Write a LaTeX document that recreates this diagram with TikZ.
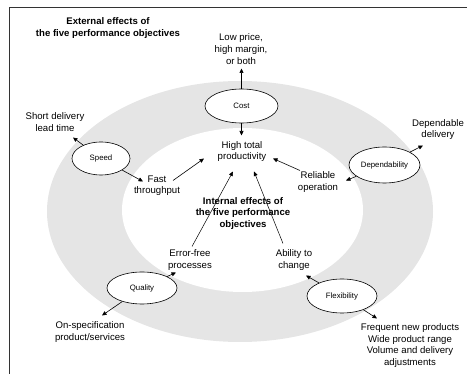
\documentclass[tikz,border=0pt]{standalone}
\usepackage{fontspec}
\setmainfont{Liberation Sans}
\usetikzlibrary{shapes.geometric,arrows.meta,calc}
\begin{document}
\begin{tikzpicture}[x=1pt,y=-1pt,
  lbl/.style={align=center,font=\fontsize{9.6}{11.6}\selectfont,inner sep=1pt},
  blbl/.style={align=center,font=\fontsize{9.6}{11.6}\selectfont\bfseries,inner sep=1pt},
  obj/.style={ellipse,draw,fill=white,line width=0.6pt,inner sep=0pt,font=\fontsize{7.8}{9}\selectfont},
  arr/.style={-{Triangle[length=4.5pt,width=4pt]},line width=0.6pt},
  thin arr/.style={-{Triangle[length=4.5pt,width=4pt]},line width=0.5pt}]
\useasboundingbox (0,0) rectangle (467,374);
% frame
\draw[line width=1.2pt,black!80] (9.5,374) -- (9.5,7.5) -- (467,7.5);
% ring
\fill[gray!20] (240,211.5) ellipse [x radius=193,y radius=130.5];
\fill[white] (242.5,210) ellipse [x radius=120.5,y radius=82];
% texts
\node[blbl] (title) at (108,28) {External effects of\\the five performance objectives};
\node[lbl] (low) at (241,49) {Low price,\\high margin,\\or both};
\node[lbl] (high) at (242,151.5) {High total\\productivity};
\node[lbl] (short) at (55,122) {Short delivery\\lead time};
\node[lbl] (fast) at (157,185.5) {Fast\\throughput};
\node[lbl] (rel) at (318,182) {Reliable\\operation};
\node[lbl] (dd) at (438,129.5) {Dependable\\delivery};
\node[blbl] (internal) at (243,213.5) {Internal effects of\\the five performance\\objectives};
\node[lbl] (ef) at (190,260) {Error-free\\processes};
\node[lbl] (ab) at (294,260) {Ability to\\change};
\node[lbl] (os) at (90,332) {On-specification\\product/services};
\node[lbl] (freq) at (410,345.5) {Frequent new products\\Wide product range\\Volume and delivery\\adjustments};
% objectives
\node[obj,minimum width=73pt,minimum height=34pt] (cost) at (241.5,106) {Cost};
\node[obj,minimum width=58pt,minimum height=33pt] (speed) at (101,158.5) {Speed};
\node[obj,minimum width=71pt,minimum height=36pt] (dep) at (384.5,165) {Dependability};
\node[obj,minimum width=70pt,minimum height=32pt] (qual) at (142,288) {Quality};
\node[obj,minimum width=70pt,minimum height=34pt] (flex) at (342,296) {Flexibility};
% external arrows
\draw[arr] (cost) -- ($(low.center)+(0.5,19.5)$);
\draw[arr] (speed) -- ($(short.center)+(18,15.5)$);
\draw[arr] (dep) -- ($(dd.center)+(-15,16)$);
\draw[arr] (qual) -- ($(os.center)+(12,-16.5)$);
\draw[arr] (flex) -- ($(freq.center)+(-33,-27)$);
% internal arrows
\draw[arr] (cost) -- ($(high.center)+(-0.5,-16)$);
\draw[arr] (speed) -- ($(fast.center)+(-14,-4)$);
\draw[arr] (dep) -- ($(rel.center)+(28,-1.5)$);
\draw[arr] (qual) -- ($(ef.center)+(-14,12.5)$);
\draw[arr] (flex) -- ($(ab.center)+(12,15.5)$);
% to productivity
\draw[arr] ($(fast.center)+(16,-5)$) -- ($(high.center)+(-38,7)$);
\draw[arr] ($(rel.center)+(-18,-11.5)$) -- ($(high.center)+(31,7)$);
\draw[thin arr] ($(ef.center)+(2,-13.5)$) -- ($(high.center)+(-9,20)$);
\draw[thin arr] ($(ab.center)+(-11,-16.5)$) -- ($(high.center)+(12,20)$);
\end{tikzpicture}
\end{document}
